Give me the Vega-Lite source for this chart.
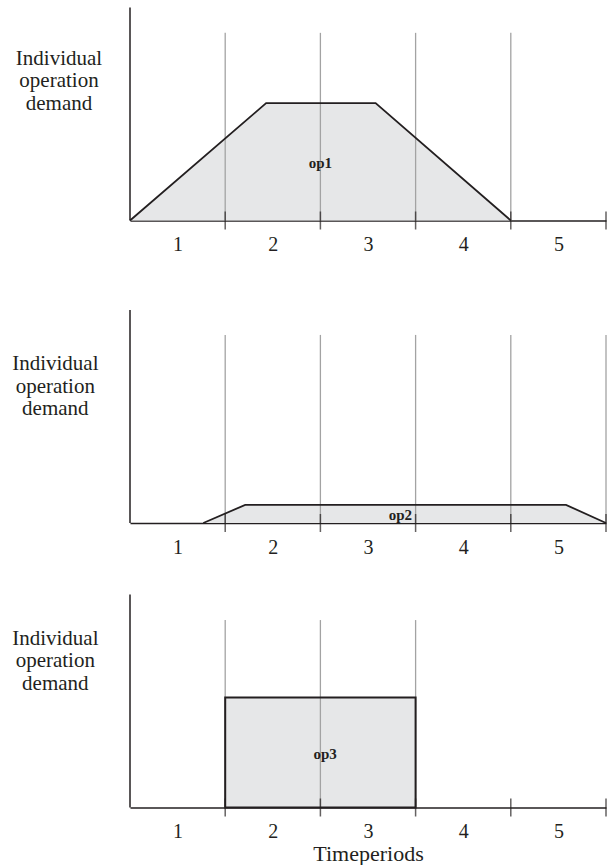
{
  "$schema": "https://vega.github.io/schema/vega-lite/v6.json",
  "padding": {"left": 11, "top": 6.5, "right": 5, "bottom": 5},
  "background": "white",
  "datasets": {
    "shapes": [
      {"op": "op1", "t": 0, "d": 0},
      {"op": "op1", "t": 1.43, "d": 55.1},
      {"op": "op1", "t": 2.58, "d": 55.1},
      {"op": "op1", "t": 4.0, "d": 0},
      {"op": "op2", "t": 0.77, "d": 0},
      {"op": "op2", "t": 1.21, "d": 8.5},
      {"op": "op2", "t": 4.58, "d": 8.5},
      {"op": "op2", "t": 5.0, "d": 0}
    ],
    "box": [{"op": "op3", "start": 1, "end": 3, "base": 0, "d": 51.6}],
    "gridlines": [
      {"panel": 1, "t": 1, "base": 0, "top": 88.1},
      {"panel": 1, "t": 2, "base": 0, "top": 88.1},
      {"panel": 1, "t": 3, "base": 0, "top": 88.1},
      {"panel": 1, "t": 4, "base": 0, "top": 88.1},
      {"panel": 2, "t": 1, "base": 0, "top": 88.3},
      {"panel": 2, "t": 2, "base": 0, "top": 88.3},
      {"panel": 2, "t": 3, "base": 0, "top": 88.3},
      {"panel": 2, "t": 4, "base": 0, "top": 88.3},
      {"panel": 2, "t": 5, "base": 0, "top": 88.3},
      {"panel": 3, "t": 1, "base": 0, "top": 88},
      {"panel": 3, "t": 2, "base": 0, "top": 88},
      {"panel": 3, "t": 3, "base": 0, "top": 88}
    ],
    "boundaries": [
      {"t": 1, "base": 0}, {"t": 2, "base": 0}, {"t": 3, "base": 0}, {"t": 4, "base": 0}, {"t": 5, "base": 0}
    ],
    "names": [
      {"op": "op1", "t": 2.0, "d": 26.8},
      {"op": "op2", "t": 2.84, "d": 3.9},
      {"op": "op3", "t": 2.05, "d": 25.2}
    ],
    "yline": [{"t": 0, "from": 0, "to": 100}]
  },
  "vconcat": [
    {
      "width": 476,
      "height": 213,
      "layer": [
        {
          "data": {"name": "shapes"},
          "transform": [{"filter": "datum.op === 'op1'"}],
          "mark": {"type": "area", "fill": "#e6e7e8", "strokeWidth": 0},
          "encoding": {
            "x": {"field": "t", "type": "quantitative", "scale": {"domain": [0, 5], "nice": false},
                  "axis": {"values": [0.5, 1.5, 2.5, 3.5, 4.5], "title": null}},
            "y": {"field": "d", "type": "quantitative", "scale": {"domain": [0, 100], "nice": false},
                  "axis": {"title": ["Individual", "operation", "demand"], "titleX": -71.5, "titleY": 56.5}}
          }
        },
        {
          "data": {"name": "gridlines"},
          "transform": [{"filter": "datum.panel === 1"}],
          "mark": {"type": "rule", "color": "#a3a3a3", "strokeWidth": 1.3},
          "encoding": {
            "x": {"field": "t", "type": "quantitative"},
            "y": {"field": "base", "type": "quantitative"},
            "y2": {"field": "top"}
          }
        },
        {
          "data": {"name": "shapes"},
          "transform": [{"filter": "datum.op === 'op1'"}],
          "mark": {"type": "line", "color": "#231f20", "strokeWidth": 1.8},
          "encoding": {
            "x": {"field": "t", "type": "quantitative"},
            "y": {"field": "d", "type": "quantitative"}
          }
        },
        {
          "data": {"name": "boundaries"},
          "mark": {"type": "tick", "orient": "vertical", "size": 18, "thickness": 1.5, "color": "#231f20"},
          "encoding": {
            "x": {"field": "t", "type": "quantitative"},
            "y": {"field": "base", "type": "quantitative"}
          }
        },
        {
          "data": {"name": "yline"},
          "mark": {"type": "rule", "color": "#231f20", "strokeWidth": 1.5},
          "encoding": {
            "x": {"field": "t", "type": "quantitative"},
            "y": {"field": "from", "type": "quantitative"},
            "y2": {"field": "to"}
          }
        },
        {
          "data": {"name": "names"},
          "transform": [{"filter": "datum.op === 'op1'"}],
          "mark": {"type": "text", "font": "Liberation Serif", "fontSize": 15, "fontWeight": "bold", "color": "#231f20", "align": "center", "baseline": "middle"},
          "encoding": {
            "x": {"field": "t", "type": "quantitative"},
            "y": {"field": "d", "type": "quantitative"},
            "text": {"field": "op", "type": "nominal"}
          }
        }
      ]
    },
    {
      "width": 476,
      "height": 231,
      "layer": [
        {
          "data": {"name": "shapes"},
          "transform": [{"filter": "datum.op === 'op2'"}],
          "mark": {"type": "area", "fill": "#e6e7e8", "strokeWidth": 0},
          "encoding": {
            "x": {"field": "t", "type": "quantitative", "scale": {"domain": [0, 5], "nice": false},
                  "axis": {"values": [0.5, 1.5, 2.5, 3.5, 4.5], "title": null}},
            "y": {"field": "d", "type": "quantitative", "scale": {"domain": [0, 108.45], "nice": false},
                  "axis": {"title": ["Individual", "operation", "demand"], "titleX": -75.2, "titleY": 77.7}}
          }
        },
        {
          "data": {"name": "gridlines"},
          "transform": [{"filter": "datum.panel === 2"}],
          "mark": {"type": "rule", "color": "#a3a3a3", "strokeWidth": 1.3},
          "encoding": {
            "x": {"field": "t", "type": "quantitative"},
            "y": {"field": "base", "type": "quantitative"},
            "y2": {"field": "top"}
          }
        },
        {
          "data": {"name": "shapes"},
          "transform": [{"filter": "datum.op === 'op2'"}],
          "mark": {"type": "line", "color": "#231f20", "strokeWidth": 1.8},
          "encoding": {
            "x": {"field": "t", "type": "quantitative"},
            "y": {"field": "d", "type": "quantitative"}
          }
        },
        {
          "data": {"name": "boundaries"},
          "mark": {"type": "tick", "orient": "vertical", "size": 18, "thickness": 1.5, "color": "#231f20"},
          "encoding": {
            "x": {"field": "t", "type": "quantitative"},
            "y": {"field": "base", "type": "quantitative"}
          }
        },
        {
          "data": {"name": "yline"},
          "mark": {"type": "rule", "color": "#231f20", "strokeWidth": 1.5},
          "encoding": {
            "x": {"field": "t", "type": "quantitative"},
            "y": {"field": "from", "type": "quantitative"},
            "y2": {"field": "to"}
          }
        },
        {
          "data": {"name": "names"},
          "transform": [{"filter": "datum.op === 'op2'"}],
          "mark": {"type": "text", "font": "Liberation Serif", "fontSize": 15, "fontWeight": "bold", "color": "#231f20", "align": "center", "baseline": "middle"},
          "encoding": {
            "x": {"field": "t", "type": "quantitative"},
            "y": {"field": "d", "type": "quantitative"},
            "text": {"field": "op", "type": "nominal"}
          }
        }
      ]
    },
    {
      "width": 476,
      "height": 213,
      "layer": [
        {
          "data": {"name": "box"},
          "mark": {"type": "rect", "fill": "#e6e7e8", "strokeWidth": 0},
          "encoding": {
            "x": {"field": "start", "type": "quantitative", "scale": {"domain": [0, 5], "nice": false},
                  "axis": {"values": [0.5, 1.5, 2.5, 3.5, 4.5], "title": "Timeperiods", "titleBaseline": "alphabetic", "titleY": 52.5, "titleFont": "Liberation Serif", "titleFontSize": 22, "titleFontWeight": "normal", "titleColor": "#231f20"}},
            "x2": {"field": "end"},
            "y": {"field": "base", "type": "quantitative", "scale": {"domain": [0, 100], "nice": false},
                  "axis": {"title": ["Individual", "operation", "demand"], "titleX": -75.2, "titleY": 49.5}},
            "y2": {"field": "d"}
          }
        },
        {
          "data": {"name": "gridlines"},
          "transform": [{"filter": "datum.panel === 3"}],
          "mark": {"type": "rule", "color": "#a3a3a3", "strokeWidth": 1.3},
          "encoding": {
            "x": {"field": "t", "type": "quantitative"},
            "y": {"field": "base", "type": "quantitative"},
            "y2": {"field": "top"}
          }
        },
        {
          "data": {"name": "box"},
          "mark": {"type": "rect", "filled": false, "stroke": "#231f20", "strokeWidth": 2},
          "encoding": {
            "x": {"field": "start", "type": "quantitative"},
            "x2": {"field": "end"},
            "y": {"field": "base", "type": "quantitative"},
            "y2": {"field": "d"}
          }
        },
        {
          "data": {"name": "boundaries"},
          "mark": {"type": "tick", "orient": "vertical", "size": 18, "thickness": 1.5, "color": "#231f20"},
          "encoding": {
            "x": {"field": "t", "type": "quantitative"},
            "y": {"field": "base", "type": "quantitative"}
          }
        },
        {
          "data": {"name": "yline"},
          "mark": {"type": "rule", "color": "#231f20", "strokeWidth": 1.5},
          "encoding": {
            "x": {"field": "t", "type": "quantitative"},
            "y": {"field": "from", "type": "quantitative"},
            "y2": {"field": "to"}
          }
        },
        {
          "data": {"name": "names"},
          "transform": [{"filter": "datum.op === 'op3'"}],
          "mark": {"type": "text", "font": "Liberation Serif", "fontSize": 15, "fontWeight": "bold", "color": "#231f20", "align": "center", "baseline": "middle"},
          "encoding": {
            "x": {"field": "t", "type": "quantitative"},
            "y": {"field": "d", "type": "quantitative"},
            "text": {"field": "op", "type": "nominal"}
          }
        }
      ]
    }
  ],
  "spacing": 71.5,
  "bounds": "flush",
  "config": {
    "view": {"stroke": null},
    "axisX": {
      "domainColor": "#231f20",
      "domainWidth": 1.5,
      "ticks": false,
      "tickSize": 0,
      "grid": false,
      "labelExpr": "format(datum.value + 0.5, 'd')",
      "labelFont": "Liberation Serif",
      "labelFontSize": 20,
      "labelColor": "#231f20",
      "labelBaseline": "alphabetic",
      "labelPadding": 30,
      "labelFlush": false,
      "labelOverlap": false
    },
    "axisY": {
      "domain": false,
      "ticks": false,
      "labels": false,
      "grid": false,
      "titleAngle": 0,
      "titleAlign": "center",
      "titleBaseline": "alphabetic",
      "titleFont": "Liberation Serif",
      "titleFontSize": 21,
      "titleFontWeight": "normal",
      "titleLineHeight": 22.5,
      "titleColor": "#231f20"
    }
  }
}
